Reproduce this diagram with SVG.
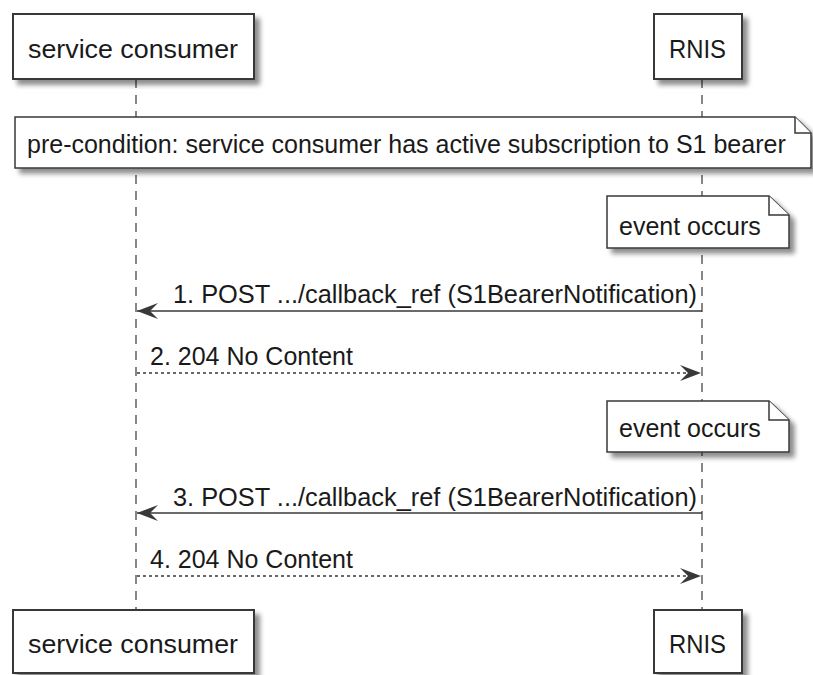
<svg xmlns="http://www.w3.org/2000/svg" width="813" height="675" viewBox="0 0 813 675">
<style>
.t{font-family:"Liberation Sans",Arial,sans-serif;font-size:25px;fill:#1a1a1a}
.box{fill:#fff;stroke:#383838;stroke-width:2}
.note{fill:#fff;stroke:#383838;stroke-width:1.5}
.life{stroke:#383838;stroke-width:1.2;stroke-dasharray:9,7;fill:none}
.msg{stroke:#383838;stroke-width:1.5;fill:none}
.dash{stroke-dasharray:3,3}
</style>
<defs>
<filter id="sh" x="-10%" y="-10%" width="130%" height="150%">
<feGaussianBlur in="SourceAlpha" stdDeviation="2.5"/>
<feOffset dx="5" dy="5" result="b"/>
<feComponentTransfer><feFuncA type="linear" slope="0.45"/></feComponentTransfer>
<feMerge><feMergeNode/><feMergeNode in="SourceGraphic"/></feMerge>
</filter>
<marker id="ah" viewBox="0 0 22 18" refX="21" refY="9" markerWidth="22" markerHeight="18" markerUnits="userSpaceOnUse" orient="auto">
<polygon points="21,9 0,1 8,9 0,17" fill="#383838"/>
</marker>
</defs>
<g id="lifelines">
<line class="life" x1="136" y1="79" x2="136" y2="610"/>
<line class="life" x1="702" y1="79" x2="702" y2="610"/>
</g>
<g id="consumer-top"><rect class="box" x="13" y="14" width="241" height="65" filter="url(#sh)"/><text class="t" x="28" y="58" textLength="210" lengthAdjust="spacingAndGlyphs">service consumer</text></g>
<g id="rnis-top"><rect class="box" x="654" y="14" width="88" height="65" filter="url(#sh)"/><text class="t" x="669" y="58" textLength="57" lengthAdjust="spacingAndGlyphs">RNIS</text></g>
<g id="note-precondition">
<polygon class="note" points="15,117 795,117 811,133 811,168 15,168" filter="url(#sh)"/>
<polyline class="note" points="795,117 795,133 811,133" fill="none"/>
<text class="t" x="27" y="153">pre-condition: service consumer has active subscription to S1 bearer</text>
</g>
<g id="note-event1">
<polygon class="note" points="607,196 769,196 789,215 789,248 607,248" filter="url(#sh)"/>
<polyline class="note" points="769,196 769,215 789,215" fill="none"/>
<text class="t" x="619" y="235">event occurs</text>
</g>
<g id="note-event2">
<polygon class="note" points="607,401 769,401 789,420 789,452 607,452" filter="url(#sh)"/>
<polyline class="note" points="769,401 769,420 789,420" fill="none"/>
<text class="t" x="619" y="437">event occurs</text>
</g>
<g id="connectors">
<line class="msg" x1="702" y1="311" x2="137" y2="311" marker-end="url(#ah)"/>
<text class="t" x="173" y="303" textLength="524" lengthAdjust="spacingAndGlyphs">1. POST .../callback_ref (S1BearerNotification)</text>
<line class="msg dash" x1="137" y1="373" x2="701" y2="373" marker-end="url(#ah)"/>
<text class="t" x="150" y="365">2. 204 No Content</text>
<line class="msg" x1="702" y1="513" x2="137" y2="513" marker-end="url(#ah)"/>
<text class="t" x="173" y="506" textLength="524" lengthAdjust="spacingAndGlyphs">3. POST .../callback_ref (S1BearerNotification)</text>
<line class="msg dash" x1="137" y1="576" x2="701" y2="576" marker-end="url(#ah)"/>
<text class="t" x="150" y="568">4. 204 No Content</text>
</g>
<g id="consumer-bottom"><rect class="box" x="13" y="610" width="241" height="63" filter="url(#sh)"/><text class="t" x="28" y="653" textLength="210" lengthAdjust="spacingAndGlyphs">service consumer</text></g>
<g id="rnis-bottom"><rect class="box" x="654" y="610" width="88" height="63" filter="url(#sh)"/><text class="t" x="669" y="653" textLength="57" lengthAdjust="spacingAndGlyphs">RNIS</text></g>
</svg>
